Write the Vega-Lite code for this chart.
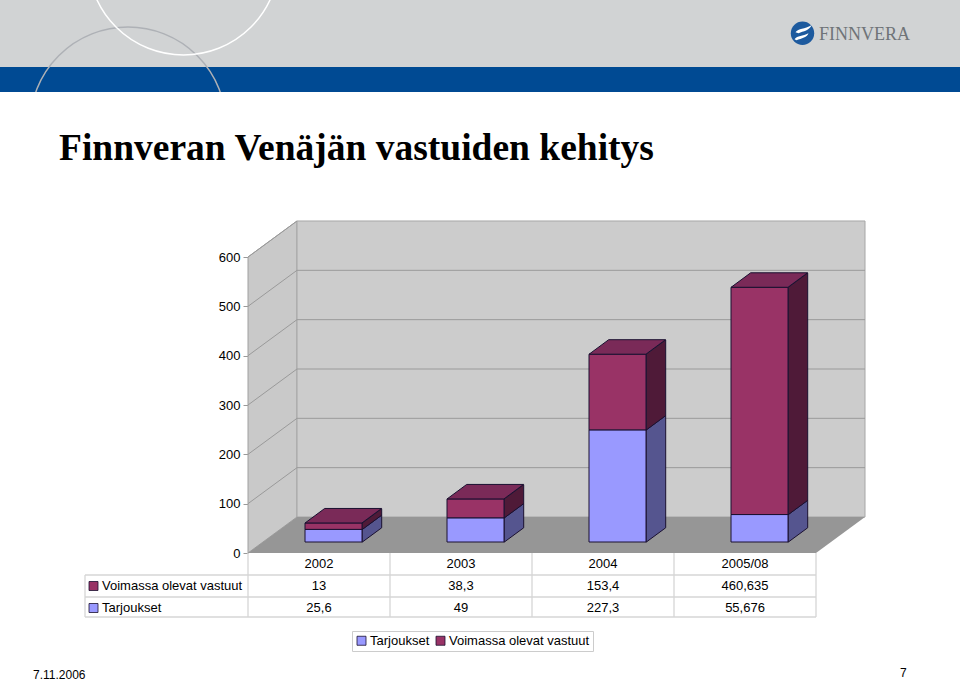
{
"$schema":"https://vega.github.io/schema/vega-lite/v6.json",
"width":960,"height":681,"padding":0,
"autosize":{"type":"fit","contains":"padding"},
"background":"white",
"config":{"view":{"stroke":null},"text":{"font":"Liberation Sans","fontSize":13,"color":"#000000"}},
"datasets":{
"bars":[
{"year":"2002","series":"Tarjoukset","value":25.6,"label":"25,6"},
{"year":"2003","series":"Tarjoukset","value":49,"label":"49"},
{"year":"2004","series":"Tarjoukset","value":227.3,"label":"227,3"},
{"year":"2005/08","series":"Tarjoukset","value":55.676,"label":"55,676"},
{"year":"2002","series":"Voimassa olevat vastuut","value":13,"label":"13"},
{"year":"2003","series":"Voimassa olevat vastuut","value":38.3,"label":"38,3"},
{"year":"2004","series":"Voimassa olevat vastuut","value":153.4,"label":"153,4"},
{"year":"2005/08","series":"Voimassa olevat vastuut","value":460.635,"label":"460,635"}
],
"ticks":[{"tick":100,"depth":[0,1]},{"tick":200,"depth":[0,1]},{"tick":300,"depth":[0,1]},{"tick":400,"depth":[0,1]},{"tick":500,"depth":[0,1]},{"tick":600,"depth":[0,1]}],
"years":[{"year":"2002"},{"year":"2003"},{"year":"2004"},{"year":"2005/08"}],
"series":[{"series":"Voimassa olevat vastuut"},{"series":"Tarjoukset"}],
"one":[{"n":1}]
},
"resolve":{"scale":{"x":"independent","y":"independent"}},
"layer":[
{"data":{"name":"one"},
"layer":[
{"mark":{"type":"rect","color":"#d1d3d4"},"encoding":{"x":{"datum":0,"type":"quantitative","scale":{"domain":[0,960],"range":[0,960]},"axis":null},"x2":{"datum":960},"y":{"datum":0,"type":"quantitative","scale":{"domain":[0,681],"range":[0,681]},"axis":null},"y2":{"datum":67}}},
{"mark":{"type":"rect","color":"#004a93"},"encoding":{"x":{"datum":0,"type":"quantitative","scale":{"domain":[0,960],"range":[0,960]},"axis":null},"x2":{"datum":960},"y":{"datum":67,"type":"quantitative","scale":{"domain":[0,681],"range":[0,681]},"axis":null},"y2":{"datum":92}}},
{"mark":{"type":"point","shape":"circle","size":38416,"filled":false,"stroke":"#aeb1b6","strokeWidth":1.5,"opacity":1,"clip":true},"encoding":{"x":{"datum":128,"type":"quantitative","scale":{"domain":[0,960],"range":[0,960]},"axis":null},"y":{"datum":125,"type":"quantitative","scale":{"domain":[0,681],"range":[0,681]},"axis":null}}},
{"mark":{"type":"rect","color":"#ffffff"},"encoding":{"x":{"datum":0,"type":"quantitative","scale":{"domain":[0,960],"range":[0,960]},"axis":null},"x2":{"datum":960},"y":{"datum":92,"type":"quantitative","scale":{"domain":[0,681],"range":[0,681]},"axis":null},"y2":{"datum":240}}},
{"mark":{"type":"point","shape":"circle","size":36481,"filled":false,"stroke":"#ffffff","strokeWidth":1.5,"opacity":1,"clip":true},"encoding":{"x":{"datum":183.5,"type":"quantitative","scale":{"domain":[0,960],"range":[0,960]},"axis":null},"y":{"datum":-40.5,"type":"quantitative","scale":{"domain":[0,681],"range":[0,681]},"axis":null}}},
{"mark":{"type":"point","shape":"circle","size":547,"filled":true,"fill":"#1d5a9e","opacity":1},"encoding":{"x":{"datum":802.5,"type":"quantitative","scale":{"domain":[0,960],"range":[0,960]},"axis":null},"y":{"datum":33.3,"type":"quantitative","scale":{"domain":[0,681],"range":[0,681]},"axis":null}}},
{"mark":{"type":"point","shape":"M-7 -1 C-4 -5 2 -4 9 -8 C7 -3 1 -2 -4 0 Z M-8 6 C-5 2 0 3 6 0 C5 4 -1 5 -6 7 Z","size":4,"filled":true,"fill":"#ffffff","opacity":1},"encoding":{"x":{"datum":802.5,"type":"quantitative","scale":{"domain":[0,960],"range":[0,960]},"axis":null},"y":{"datum":33.3,"type":"quantitative","scale":{"domain":[0,681],"range":[0,681]},"axis":null}}},
{"mark":{"type":"text","text":"FINNVERA","font":"Liberation Serif","fontSize":18,"color":"#6f7478","align":"left","baseline":"alphabetic"},"encoding":{"x":{"datum":819,"type":"quantitative","scale":{"domain":[0,960],"range":[0,960]},"axis":null},"y":{"datum":39.5,"type":"quantitative","scale":{"domain":[0,681],"range":[0,681]},"axis":null}}},
{"mark":{"type":"text","text":"Finnveran Venäjän vastuiden kehitys","font":"Liberation Serif","fontWeight":"bold","fontSize":37.5,"color":"#000000","align":"left","baseline":"alphabetic"},"encoding":{"x":{"datum":59,"type":"quantitative","scale":{"domain":[0,960],"range":[0,960]},"axis":null},"y":{"datum":160,"type":"quantitative","scale":{"domain":[0,681],"range":[0,681]},"axis":null}}},
{"mark":{"type":"text","text":"7.11.2006","fontSize":12,"align":"left","baseline":"middle"},"encoding":{"x":{"datum":33,"type":"quantitative","scale":{"domain":[0,960],"range":[0,960]},"axis":null},"y":{"datum":674.5,"type":"quantitative","scale":{"domain":[0,681],"range":[0,681]},"axis":null}}},
{"mark":{"type":"text","text":"7","fontSize":12,"align":"left","baseline":"alphabetic"},"encoding":{"x":{"datum":900,"type":"quantitative","scale":{"domain":[0,960],"range":[0,960]},"axis":null},"y":{"datum":677,"type":"quantitative","scale":{"domain":[0,681],"range":[0,681]},"axis":null}}}
]},
{"data":{"name":"ticks"},"mark":{"type":"rule","opacity":0},
"encoding":{"y":{"field":"tick","type":"quantitative","scale":{"domain":[0,600],"range":[553,257]},"axis":{"title":null,"values":[0,100,200,300,400,500,600],"domain":false,"grid":false,"offset":-248,"tickSize":5,"tickColor":"#999999","labelFont":"Liberation Sans","labelFontSize":13,"labelColor":"#000000","labelPadding":3,"labelOverlap":false}}}},
{
"resolve":{"scale":{"x":"independent"}},
"layer":[
{"data":{"values":[{"depth":0,"top":600,"bottom":0},{"depth":1,"top":673,"bottom":73}]},
"mark":{"type":"area","fill":"#c9c9c9","stroke":"#a0a0a0","strokeWidth":1},
"encoding":{"x":{"field":"depth","type":"quantitative","scale":{"domain":[0,1],"range":[248,297]},"axis":null},
"y":{"field":"top","type":"quantitative","scale":{"domain":[0,600],"range":[553,257]},"axis":null},
"y2":{"field":"bottom"}}},
{"data":{"values":[{"top":673,"bottom":73}]},"mark":{"type":"rect","fill":"#cccccc","stroke":"#a6a6a6","strokeWidth":1},
"encoding":{"x":{"datum":0,"type":"quantitative","scale":{"domain":[0,1],"range":[297,865]},"axis":null},"x2":{"datum":1},
"y":{"field":"top","type":"quantitative","scale":{"domain":[0,600],"range":[553,257]},"axis":null},"y2":{"field":"bottom"}}},
{"data":{"name":"one"},"mark":{"type":"point","shape":"M0 0 L568 0 L617 -36 L49 -36 Z","size":4,"filled":true,"fill":"#969696","opacity":1},
"encoding":{"x":{"datum":0,"type":"quantitative","scale":{"domain":[0,1],"range":[248,816]},"axis":null},
"y":{"datum":0,"type":"quantitative","scale":{"domain":[0,600],"range":[553,257]},"axis":null}}},
{"data":{"name":"ticks"},"transform":[{"filter":"datum.tick<600"}],"mark":{"type":"rule","stroke":"#9a9a9a","strokeWidth":1,"yOffset":-36},
"encoding":{"x":{"datum":0,"type":"quantitative","scale":{"domain":[0,1],"range":[297,865]},"axis":null},"x2":{"datum":1},
"y":{"field":"tick","type":"quantitative","scale":{"domain":[0,600],"range":[553,257]},"axis":null}}},
{"data":{"name":"ticks"},"transform":[{"flatten":["depth"]},{"calculate":"datum.tick+datum.depth*73","as":"projected"}],"mark":{"type":"line","stroke":"#9a9a9a","strokeWidth":1},
"encoding":{"x":{"field":"depth","type":"quantitative","scale":{"domain":[0,1],"range":[248,297]},"axis":null},
"y":{"field":"projected","type":"quantitative","scale":{"domain":[0,600],"range":[553,257]},"axis":null},
"detail":{"field":"tick"}}},
{"data":{"name":"bars"},
"transform":[{"stack":"value","groupby":["year"],"sort":[{"field":"series","order":"ascending"}],"as":["low","high"]}],
"resolve":{"scale":{"x":"independent"}},
"layer":[
{"transform":[
{"calculate":"[0,1,2,3,4]","as":"corner"},
{"calculate":"[0.3,0.7,0.7,0.3,0.3]","as":"depth"},
{"calculate":"[datum.low,datum.low,datum.high,datum.high,datum.low]","as":"level"},
{"flatten":["corner","depth","level"]},
{"calculate":"datum.level+datum.depth*73","as":"projected"}],
"mark":{"type":"line","stroke":"#1a1030","strokeWidth":1},
"encoding":{"x":{"field":"year","type":"nominal","scale":{"domain":["2002","2003","2004","2005/08"],"range":[304.8,872.8],"paddingInner":0.6,"paddingOuter":0.3},"axis":null},
"y":{"field":"projected","type":"quantitative","scale":{"domain":[0,600],"range":[553,257]},"axis":null},
"order":{"field":"corner","type":"quantitative"},
"detail":[{"field":"year"},{"field":"series"}],
"fill":{"field":"series","type":"nominal","scale":{"domain":["Voimassa olevat vastuut","Tarjoukset"],"range":["#4f1a38","#55558f"]},"legend":null},
"xOffset":{"field":"depth","type":"quantitative","scale":{"domain":[0,1],"range":[0,49]}}}},
{"mark":{"type":"bar","width":57,"stroke":"#1a1030","strokeWidth":1,"yOffset":-11,"y2Offset":-11,"opacity":1},
"encoding":{"x":{"field":"year","type":"nominal","scale":{"domain":["2002","2003","2004","2005/08"],"range":[262.5,830.5],"paddingInner":0.6,"paddingOuter":0.3},"axis":null},
"y":{"field":"high","type":"quantitative","scale":{"domain":[0,600],"range":[553,257]},"axis":null},"y2":{"field":"low"},
"color":{"field":"series","type":"nominal","scale":{"domain":["Tarjoukset","Voimassa olevat vastuut"],"range":["#9999ff","#993366"]},
"legend":{"title":null,"orient":"none","legendX":352,"legendY":631,"direction":"horizontal","columns":2,"padding":3,"fillColor":"#ffffff","strokeColor":"#cccccc","symbolType":"square","symbolSize":81,"symbolStrokeColor":"#1a1030","symbolStrokeWidth":0.8,"symbolOpacity":1,"labelFont":"Liberation Sans","labelFontSize":13,"labelColor":"#000000","labelOffset":2,"columnPadding":4,"labelLimit":300}}}},
{"transform":[{"filter":"datum.series==='Voimassa olevat vastuut'"}],
"mark":{"type":"point","shape":"M-28.4 0 L28.4 0 L48 -14.5 L-8.8 -14.5 Z","size":4,"filled":true,"fill":"#7a2a58","stroke":"#1a1030","strokeWidth":1,"opacity":1,"yOffset":-11},
"encoding":{"x":{"field":"year","type":"nominal","scale":{"domain":["2002","2003","2004","2005/08"],"range":[262.5,830.5],"paddingInner":0.6,"paddingOuter":0.3},"axis":null},
"y":{"field":"high","type":"quantitative","scale":{"domain":[0,600],"range":[553,257]},"axis":null}}}
]}
]},
{
"resolve":{"scale":{"x":"independent","y":"independent"}},
"layer":[
{"data":{"values":[{"line":1},{"line":2},{"line":3}]},"mark":{"type":"rule","stroke":"#d6d6d6","strokeWidth":1.3},
"encoding":{"x":{"datum":85,"type":"quantitative","scale":{"domain":[0,960],"range":[0,960]},"axis":null},"x2":{"datum":816},
"y":{"field":"line","type":"quantitative","scale":{"domain":[0,1,2,3],"range":[553,575,597,617]},"axis":null}}},
{"data":{"values":[{"col":0},{"col":1},{"col":2},{"col":3},{"col":4}]},"mark":{"type":"rule","stroke":"#d6d6d6","strokeWidth":1.3},
"encoding":{"x":{"field":"col","type":"quantitative","scale":{"domain":[0,4],"range":[248,816]},"axis":null},
"y":{"datum":0,"type":"quantitative","scale":{"domain":[0,1,2,3],"range":[553,575,597,617]},"axis":null},"y2":{"datum":3}}},
{"data":{"name":"one"},"mark":{"type":"rule","stroke":"#d6d6d6","strokeWidth":1.3},
"encoding":{"x":{"datum":85,"type":"quantitative","scale":{"domain":[0,960],"range":[0,960]},"axis":null},
"y":{"datum":1,"type":"quantitative","scale":{"domain":[0,1,2,3],"range":[553,575,597,617]},"axis":null},"y2":{"datum":3}}},
{"data":{"name":"years"},"mark":{"type":"text","align":"center","baseline":"middle"},
"encoding":{"x":{"field":"year","type":"nominal","scale":{"domain":["2002","2003","2004","2005/08"],"range":[248,816],"paddingInner":0,"paddingOuter":0},"axis":null},
"y":{"datum":"header","type":"nominal","scale":{"type":"point","padding":0,"domain":["header","Voimassa olevat vastuut","Tarjoukset"],"range":[564,608]},"axis":null},
"text":{"field":"year"}}},
{"data":{"name":"bars"},"mark":{"type":"text","align":"center","baseline":"middle"},
"encoding":{"x":{"field":"year","type":"nominal","scale":{"domain":["2002","2003","2004","2005/08"],"range":[248,816],"paddingInner":0,"paddingOuter":0},"axis":null},
"y":{"field":"series","type":"nominal","scale":{"type":"point","padding":0,"domain":["header","Voimassa olevat vastuut","Tarjoukset"],"range":[564,608]},"axis":null},
"text":{"field":"label"}}},
{"data":{"name":"series"},"mark":{"type":"text","align":"left","baseline":"middle"},
"encoding":{"x":{"datum":102,"type":"quantitative","scale":{"domain":[0,960],"range":[0,960]},"axis":null},
"y":{"field":"series","type":"nominal","scale":{"type":"point","padding":0,"domain":["header","Voimassa olevat vastuut","Tarjoukset"],"range":[564,608]},"axis":null},
"text":{"field":"series"}}},
{"data":{"name":"series"},"transform":[{"filter":"datum.series==='Tarjoukset'"}],"mark":{"type":"point","shape":"square","size":81,"filled":true,"fill":"#9999ff","stroke":"#1a1030","strokeWidth":0.8,"opacity":1},
"encoding":{"x":{"datum":93.5,"type":"quantitative","scale":{"domain":[0,960],"range":[0,960]},"axis":null},
"y":{"field":"series","type":"nominal","scale":{"type":"point","padding":0,"domain":["header","Voimassa olevat vastuut","Tarjoukset"],"range":[564,608]},"axis":null}}},
{"data":{"name":"series"},"transform":[{"filter":"datum.series!=='Tarjoukset'"}],"mark":{"type":"point","shape":"square","size":81,"filled":true,"fill":"#993366","stroke":"#1a1030","strokeWidth":0.8,"opacity":1},
"encoding":{"x":{"datum":93.5,"type":"quantitative","scale":{"domain":[0,960],"range":[0,960]},"axis":null},
"y":{"field":"series","type":"nominal","scale":{"type":"point","padding":0,"domain":["header","Voimassa olevat vastuut","Tarjoukset"],"range":[564,608]},"axis":null}}}
]}
]
}
